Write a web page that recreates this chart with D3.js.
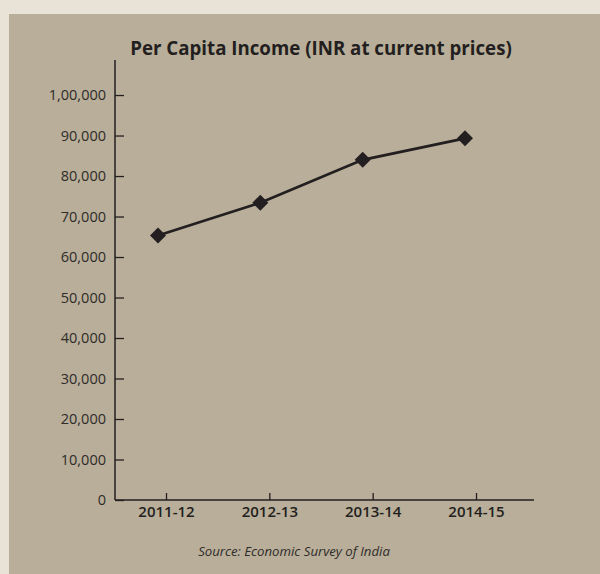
<!DOCTYPE html>
<html>
<head>
  <meta charset="utf-8">
  <title>Per Capita Income</title>
  <script src="https://d3js.org/d3.v7.min.js"></script>
  <style>
    body { margin: 0; background: #e9e2d6; }
    svg { display: block; }
    text { font-family: "Open Sans", sans-serif; }
  </style>
</head>
<body>
  <svg width="600" height="574"></svg>

  <script>
    const years = ["2011-12", "2012-13", "2013-14", "2014-15"];
    const income = [65300, 73400, 84000, 89300];
    const yTicks = [0, 10000, 20000, 30000, 40000, 50000, 60000, 70000, 80000, 90000, 100000];

    const svg = d3.select("svg");
    const ink = "#231f20";

    // panel
    svg.append("rect")
      .attr("x", 9).attr("y", 14)
      .attr("width", 591).attr("height", 560)
      .attr("fill", "#b9ae99");

    const mLeft = 115, mBottom = 500, mTop = 60, mRight = 534;

    const y = d3.scaleLinear().domain([0, 108650]).range([mBottom, mTop]);
    const xPts = d3.scalePoint().domain(years).range([158, 465]);
    const xTicks = d3.scalePoint().domain(years).range([166, 476]);

    // indian style grouping: 1,00,000
    function inr(v) {
      const s = String(v);
      if (s.length <= 3) return s;
      const last3 = s.slice(-3);
      const rest = s.slice(0, -3).replace(/\B(?=(\d{2})+(?!\d))/g, ",");
      return rest + "," + last3;
    }

    const yAxis = svg.append("g")
      .attr("transform", `translate(${mLeft},0)`)
      .call(d3.axisLeft(y).tickValues(yTicks).tickFormat(inr).tickSize(-9).tickPadding(9));
    yAxis.select(".domain").remove();
    yAxis.selectAll("line").attr("stroke", ink).attr("stroke-width", 1.3);
    yAxis.selectAll("text")
      .attr("fill", "#2e2b29")
      .style("font-size", "14.5px");

    const xAxis = svg.append("g")
      .attr("transform", `translate(0,${mBottom})`)
      .call(d3.axisBottom(xTicks).tickSize(-7).tickPadding(6.5));
    xAxis.select(".domain").remove();
    xAxis.selectAll("line").attr("stroke", ink).attr("stroke-width", 1.3);
    xAxis.selectAll("text")
      .attr("fill", ink)
      .style("font-size", "15px")
      .style("font-weight", 600);

    // axis lines
    svg.append("line")
      .attr("x1", mLeft).attr("x2", mLeft)
      .attr("y1", mTop).attr("y2", mBottom)
      .attr("stroke", ink).attr("stroke-width", 1.5);
    svg.append("line")
      .attr("x1", mLeft).attr("x2", mRight)
      .attr("y1", mBottom).attr("y2", mBottom)
      .attr("stroke", ink).attr("stroke-width", 1.5);

    const data = years.map((d, i) => ({ year: d, value: income[i] }));

    svg.append("path")
      .datum(data)
      .attr("fill", "none")
      .attr("stroke", ink)
      .attr("stroke-width", 2.7)
      .attr("d", d3.line().x(d => xPts(d.year)).y(d => y(d.value)));

    svg.selectAll("path.pt")
      .data(data)
      .enter()
      .append("path")
      .attr("class", "pt")
      .attr("d", d3.symbol(d3.symbolSquare, 128))
      .attr("transform", d => `translate(${xPts(d.year)},${y(d.value)}) rotate(45)`)
      .attr("fill", ink);

    svg.append("text")
      .attr("x", 321).attr("y", 55)
      .attr("text-anchor", "middle")
      .attr("fill", ink)
      .style("font-size", "18.7px")
      .style("font-weight", 700)
      .text("Per Capita Income (INR at current prices)");

    svg.append("text")
      .attr("x", 294).attr("y", 556)
      .attr("text-anchor", "middle")
      .attr("fill", "#2e2b29")
      .style("font-size", "13.2px")
      .style("font-style", "italic")
      .text("Source: Economic Survey of India");
  </script>
</body>
</html>
